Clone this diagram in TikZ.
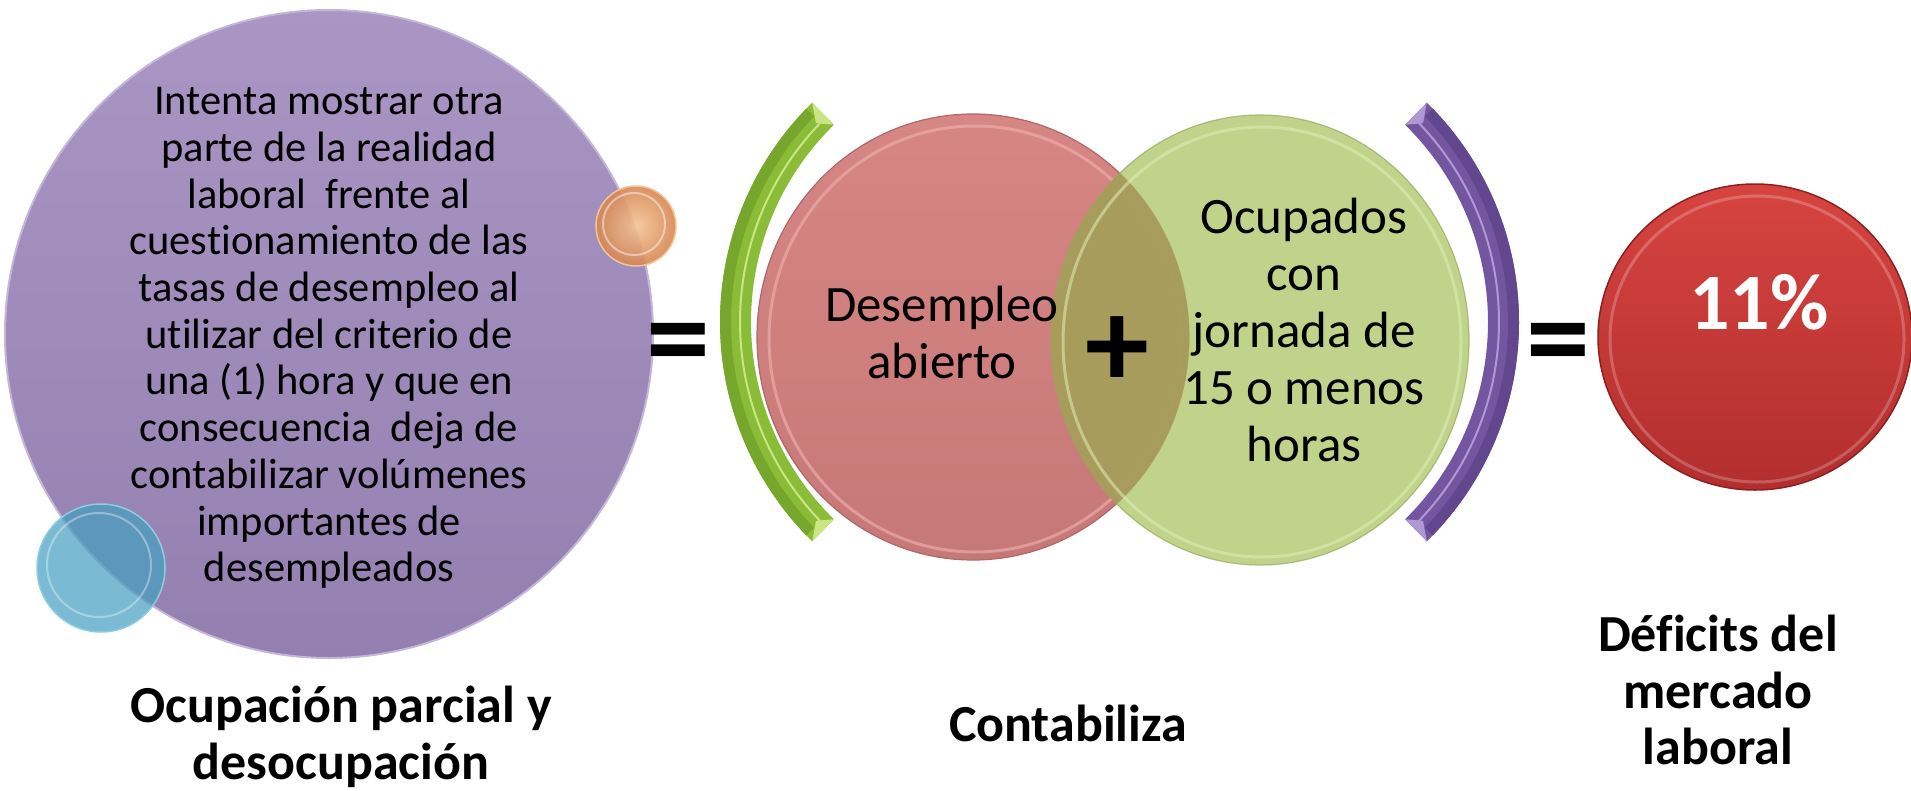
\documentclass[tikz,border=0pt]{standalone}
\usepackage{fontspec}
\setmainfont{Carlito}[Ligatures=NoCommon]
\usetikzlibrary{shapes.geometric,calc}
\definecolor{purpA}{RGB}{170,150,196}
\definecolor{purpB}{RGB}{148,128,176}
\definecolor{purpRim}{RGB}{196,182,214}
\definecolor{orangeA}{RGB}{244,196,150}
\definecolor{orangeB}{RGB}{214,134,82}
\definecolor{blueA}{RGB}{70,160,192}
\definecolor{blueRim}{RGB}{140,205,222}
\definecolor{pinkA}{RGB}{214,134,132}
\definecolor{pinkB}{RGB}{198,120,120}
\definecolor{pinkRim}{RGB}{176,104,104}
\definecolor{pinkHi}{RGB}{240,178,176}
\definecolor{greenFill}{RGB}{172,196,100}
\definecolor{greenRim}{RGB}{150,170,90}
\definecolor{greenHi}{RGB}{222,238,180}
\definecolor{overlap}{RGB}{166,154,90}
\definecolor{brGreen}{RGB}{138,188,56}
\definecolor{brGreenD}{RGB}{118,166,44}
\definecolor{brGreenL}{RGB}{200,230,130}
\definecolor{brPurp}{RGB}{116,86,160}
\definecolor{brPurpD}{RGB}{98,70,142}
\definecolor{brPurpL}{RGB}{176,152,212}
\definecolor{redA}{RGB}{214,68,64}
\definecolor{redB}{RGB}{178,46,46}
\definecolor{redRim}{RGB}{140,32,32}
\tikzset{
  bigtxt/.style={inner sep=0pt, align=center, font=\fontsize{42.5}{46.7}\selectfont},
  midtxt/.style={inner sep=0pt, align=center, font=\fontsize{51}{57}\selectfont},
  lbltxt/.style={inner sep=0pt, align=center, font=\fontsize{52}{56.5}\selectfont\bfseries},
  opsymb/.style={inner sep=0pt, font=\fontsize{128}{128}\selectfont\bfseries},
}
\begin{document}
\begin{tikzpicture}[x=1pt,y=-1pt]
\useasboundingbox (0,0) rectangle (1911,790);
% big purple circle
\node (big) [circle, inner sep=0pt, minimum size=648pt, top color=purpA, bottom color=purpB, draw=purpRim, line width=2pt] at (329,334) {};
% small orange bubble
\node (orb) [circle, inner sep=0pt, minimum size=80pt, inner color=orangeA, outer color=orangeB, draw=orangeA, line width=1.5pt, fill opacity=0.9] at (636,226) {};
\node (orbin) [circle, inner sep=0pt, minimum size=62pt, draw=white, draw opacity=0.45, line width=2pt] at (634,224) {};
% small blue bubble
\node (blb) [circle, inner sep=0pt, minimum size=128pt, fill=blueA, fill opacity=0.72, draw=blueRim, line width=1.5pt] at (101,568) {};
\node (blbin) [circle, inner sep=0pt, minimum size=104pt, draw=white, draw opacity=0.35, line width=2pt] at (99,565) {};
% text of big circle
\node (bigt) [bigtxt] at (329,338) {Intenta mostrar otra\\parte de la realidad\\laboral \ frente al\\cuestionamiento de las\\tasas de desempleo al\\utilizar del criterio de\\una (1) hora y que en\\consecuencia \ deja de\\contabilizar volúmenes\\importantes de\\desempleados};
% first equals
\node (eq1) [opsymb] at (678,352) {=};
% green bracket
\coordinate (gc) at (1027,322);
\fill[brGreen] ($(gc)+(225.6:307)$) arc[start angle=225.6, end angle=134.4, radius=307]
  -- ($(gc)+(134.4:276)$) arc[start angle=134.4, end angle=225.6, radius=276] -- cycle;
\fill[brGreenD] ($(gc)+(224:307)$) arc[start angle=224, end angle=136, radius=307]
  -- ($(gc)+(136:296)$) arc[start angle=136, end angle=224, radius=296] -- cycle;
\draw[brGreenL, line width=2pt] ($(gc)+(224.5:287)$) arc[start angle=224.5, end angle=135.5, radius=287];
\fill[brGreenL] ($(gc)+(225.6:307)$) -- ($(gc)+(225.6:276)$) -- ($(gc)+(223.3:290)$) -- cycle;
\fill[brGreenL] ($(gc)+(134.4:307)$) -- ($(gc)+(134.4:276)$) -- ($(gc)+(136.7:290)$) -- cycle;
% pink ellipse
\node (pink) [ellipse, inner sep=0pt, minimum width=432pt, minimum height=446pt, top color=pinkA, bottom color=pinkB, draw=pinkRim, line width=1.2pt] at (973,337) {};
\node (pinkin) [ellipse, inner sep=0pt, minimum width=412pt, minimum height=426pt, draw=pinkHi, draw opacity=0.6, line width=3pt] at (975,339) {};
% green ellipse
\node (green) [ellipse, inner sep=0pt, minimum width=418pt, minimum height=450pt, fill=greenFill, fill opacity=0.75, draw=greenRim, draw opacity=0.7, line width=1.2pt] at (1260,340) {};
\begin{scope}
\clip (973,337) ellipse [x radius=216, y radius=223];
\fill[overlap, fill opacity=0.9] (1260,340) ellipse [x radius=209, y radius=225];
\end{scope}
\node (greenin) [ellipse, inner sep=0pt, minimum width=398pt, minimum height=430pt, draw=greenHi, draw opacity=0.55, line width=3pt] at (1262,342) {};
% purple bracket
\coordinate (pc) at (1212,322);
\fill[brPurp] ($(pc)+(-45.6:307)$) arc[start angle=-45.6, end angle=45.6, radius=307]
  -- ($(pc)+(45.6:276)$) arc[start angle=45.6, end angle=-45.6, radius=276] -- cycle;
\fill[brPurpD] ($(pc)+(-44:307)$) arc[start angle=-44, end angle=44, radius=307]
  -- ($(pc)+(44:296)$) arc[start angle=44, end angle=-44, radius=296] -- cycle;
\draw[brPurpL, line width=2pt] ($(pc)+(-44.5:287)$) arc[start angle=-44.5, end angle=44.5, radius=287];
\fill[brPurpL] ($(pc)+(-45.6:307)$) -- ($(pc)+(-45.6:276)$) -- ($(pc)+(-43.3:290)$) -- cycle;
\fill[brPurpL] ($(pc)+(45.6:307)$) -- ($(pc)+(45.6:276)$) -- ($(pc)+(43.3:290)$) -- cycle;
% texts of the two circles
\node (dest) [midtxt] at (942,332) {Desempleo\\abierto};
\node (ocut) [midtxt] at (1304,330) {Ocupados\\con\\jornada de\\15 o menos\\horas};
\node (plus) [opsymb] at (1117,352) {+};
% second equals
\node (eq2) [opsymb] at (1558,352) {=};
% red ellipse
\node (red) [ellipse, inner sep=0pt, minimum width=314pt, minimum height=306pt, top color=redA, bottom color=redB, draw=redRim, line width=1.5pt] at (1755,337) {};
\node (redin) [ellipse, inner sep=0pt, minimum width=294pt, minimum height=286pt, draw=white, draw opacity=0.22, line width=3pt] at (1757,339) {};
\node (pct) [inner sep=0pt, font=\fontsize{80}{80}\selectfont\bfseries, text=white] at (1759,302) {11\%};
% labels
\node (lab1) [lbltxt] at (341,737) {Ocupación parcial y\\desocupación};
\node (lab2) [lbltxt] at (1068,723) {Contabiliza};
\node (lab3) [lbltxt] at (1718,690) {Déficits del\\mercado\\laboral};
\end{tikzpicture}
\end{document}
